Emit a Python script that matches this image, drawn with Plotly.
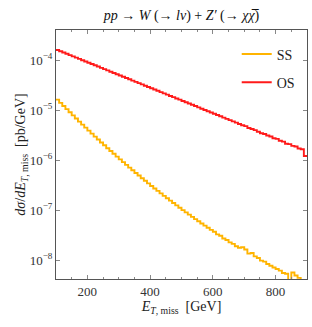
import plotly.graph_objects as go

# bin edges: 100..900 GeV in 10 GeV bins
bin_lo = list(range(100, 900, 10))

os_vals = [
    1.585e-4, 1.494e-4, 1.409e-4, 1.329e-4, 1.253e-4, 1.182e-4, 1.114e-4, 1.051e-4, 9.91e-5, 9.34e-5,
    8.81e-5, 8.31e-5, 7.83e-5, 7.39e-5, 6.97e-5, 6.57e-5, 6.19e-5, 5.84e-5, 5.51e-5, 5.19e-5,
    4.90e-5, 4.62e-5, 4.36e-5, 4.11e-5, 3.87e-5, 3.65e-5, 3.44e-5, 3.25e-5, 3.06e-5, 2.89e-5,
    2.72e-5, 2.57e-5, 2.42e-5, 2.28e-5, 2.15e-5, 2.03e-5, 1.91e-5, 1.81e-5, 1.70e-5, 1.61e-5,
    1.51e-5, 1.43e-5, 1.35e-5, 1.27e-5, 1.20e-5, 1.13e-5, 1.06e-5, 1.00e-5, 9.46e-6, 8.92e-6,
    8.41e-6, 7.93e-6, 7.48e-6, 7.05e-6, 6.65e-6, 6.27e-6, 5.92e-6, 5.58e-6, 5.26e-6, 4.96e-6,
    4.75e-6, 4.38e-6, 4.16e-6, 3.95e-6, 3.68e-6, 3.42e-6, 3.30e-6, 3.08e-6, 2.95e-6, 2.72e-6,
    2.65e-6, 2.43e-6, 2.33e-6, 2.12e-6, 2.08e-6, 1.92e-6, 1.86e-6, 1.70e-6, 1.64e-6, 1.20e-6,
]

ss_vals = [
    1.61e-5, 1.39e-5, 1.20e-5, 1.04e-5, 8.99e-6, 7.80e-6, 6.76e-6, 5.86e-6, 5.10e-6, 4.44e-6,
    3.86e-6, 3.37e-6, 2.94e-6, 2.57e-6, 2.24e-6, 1.97e-6, 1.72e-6, 1.51e-6, 1.33e-6, 1.17e-6,
    1.03e-6, 9.06e-7, 7.98e-7, 7.05e-7, 6.24e-7, 5.51e-7, 4.89e-7, 4.33e-7, 3.85e-7, 3.41e-7,
    3.03e-7, 2.70e-7, 2.41e-7, 2.15e-7, 1.92e-7, 1.72e-7, 1.54e-7, 1.38e-7, 1.24e-7, 1.11e-7,
    9.95e-8, 8.97e-8, 8.07e-8, 7.28e-8, 6.58e-8, 5.94e-8, 5.37e-8, 4.86e-8, 4.41e-8, 4.00e-8,
    3.68e-8, 3.25e-8, 3.05e-8, 2.70e-8, 2.52e-8, 2.25e-8, 2.10e-8, 1.88e-8, 1.76e-8, 1.80e-8,
    1.62e-8, 1.34e-8, 1.38e-8, 1.18e-8, 1.10e-8, 9.73e-9, 9.30e-9, 8.30e-9, 7.70e-9, 7.10e-9,
    6.61e-9, 6.14e-9, 5.50e-9, 5.31e-9, 3.80e-9, 5.62e-9, 4.90e-9, 4.40e-9, 3.90e-9, 3.10e-9,
]

ytick_vals = [1e-8, 1e-7, 1e-6, 1e-5, 1e-4]
ytick_text = ["10<sup>\u22128</sup>", "10<sup>\u22127</sup>", "10<sup>\u22126</sup>",
              "10<sup>\u22125</sup>", "10<sup>\u22124</sup>"]
xtick_vals = [200, 400, 600, 800]

x_edges = bin_lo + [900]

fig = go.Figure()
fig.add_trace(go.Scatter(x=x_edges, y=ss_vals + [ss_vals[-1]], mode="lines", line_shape="hv",
                         name="SS", legendgroup="a",
                         line=dict(color="#FFB400", width=1.9)))
fig.add_trace(go.Scatter(x=x_edges, y=os_vals + [os_vals[-1]], mode="lines", line_shape="hv",
                         name="OS", legendgroup="b",
                         line=dict(color="#FF1A1A", width=1.9)))

serif = "Liberation Serif"
axis_common = dict(showline=True, linecolor="#555555", linewidth=1, mirror="ticks",
                   ticks="inside", tickcolor="#888888", ticklen=4, showgrid=False,
                   zeroline=False, automargin=False,
                   tickfont=dict(family=serif, size=13, color="#333333"))

fig.update_layout(
    width=312, height=327,
    margin=dict(l=56, r=5, t=30, b=48),
    paper_bgcolor="white", plot_bgcolor="white",
    font=dict(family=serif, size=13, color="#222222"),
    title=dict(text="<i>pp</i> \u2192 <i>W</i> (\u2192 <i>l\u03bd</i>) + <i>Z\u2032</i> (\u2192 <i>\u03c7\u03c7\u0305</i>)",
               x=0.5, xanchor="center", xref="paper", y=0.955, yanchor="middle",
               font=dict(family=serif, size=14, color="#111111")),
    xaxis=dict(range=[100, 900], tickvals=xtick_vals, ticktext=[str(v) for v in xtick_vals],
               minor=dict(ticks="inside", dtick=50, tick0=0, ticklen=2, tickcolor="#888888"),
               title=dict(text="<i>E</i><sub><i>T</i>, miss</sub>  [GeV]", standoff=0,
                          font=dict(family=serif, size=14, color="#222222")),
               **axis_common),
    yaxis=dict(type="log", range=[-8.38, -3.4], tickvals=ytick_vals, ticktext=ytick_text,
               title=dict(text="<i>d\u03c3</i>/<i>dE</i><sub><i>T</i>, miss</sub>  [pb/GeV]", standoff=0,
                          font=dict(family=serif, size=14, color="#222222")),
               **axis_common),
    legend=dict(x=0.72, y=0.966, xanchor="left", yanchor="top", bgcolor="rgba(0,0,0,0)",
                font=dict(family=serif, size=14, color="#222222"), tracegroupgap=7,
                itemwidth=30),
    showlegend=True,
)

fig.write_html("out.html", config={"displayModeBar": False},
               post_script="document.body.style.margin='0';")
